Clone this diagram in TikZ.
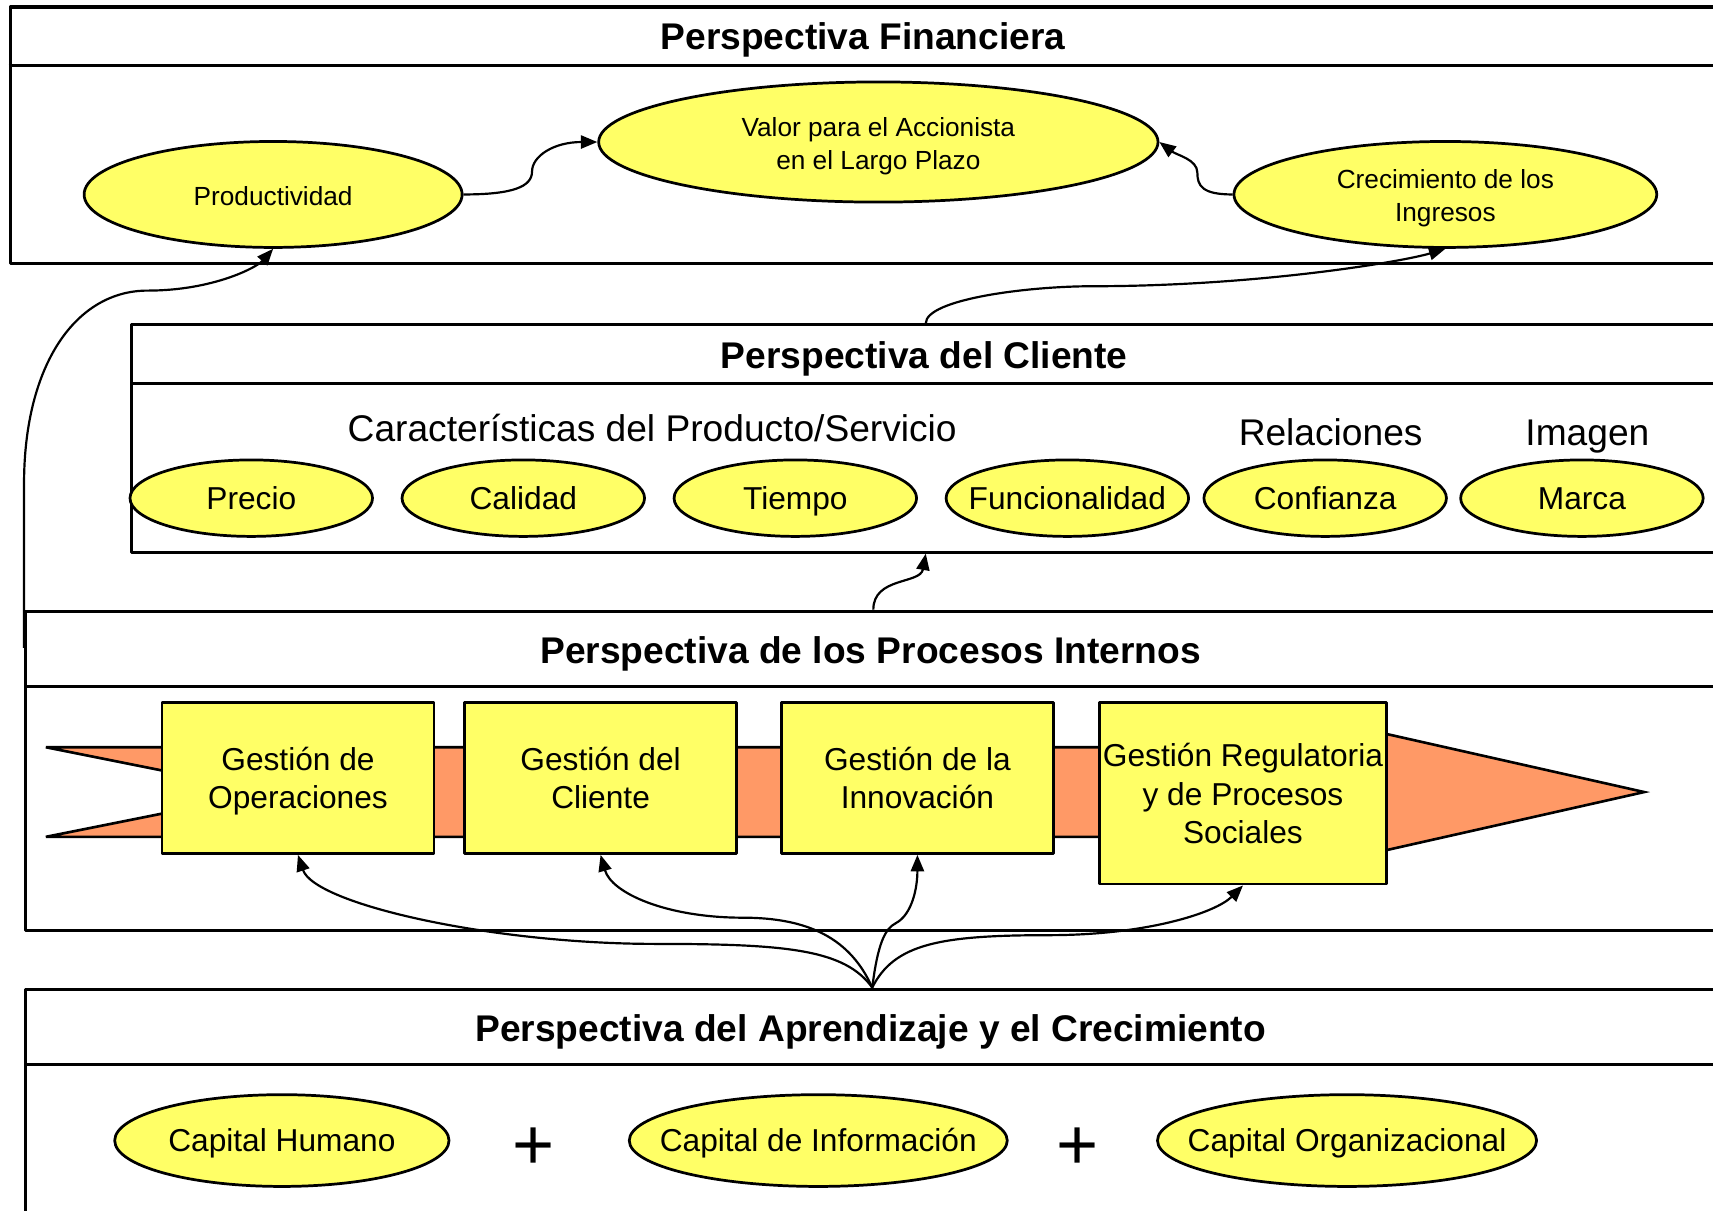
\documentclass[tikz,border=0pt]{standalone}
\usepackage{fontspec}
\setmainfont{Liberation Sans}
\usetikzlibrary{shapes.geometric,arrows.meta}

\definecolor{ovalfill}{HTML}{FFFF66}
\definecolor{bandfill}{HTML}{FF9966}

\newcommand\fsmall{\fontsize{24}{30}\selectfont}
\newcommand\fmid{\fontsize{29}{35}\selectfont}
\newcommand\fbig{\fontsize{34}{40}\selectfont}

\tikzset{
  frame/.style={draw, line width=2.8pt, anchor=north west, inner sep=0pt},
  sepline/.style={line width=2.8pt},
  ptitle/.style={font=\fbig\bfseries, anchor=base, inner sep=0pt},
  cat/.style={font=\fbig, anchor=base, inner sep=0pt},
  oval/.style={ellipse, draw, line width=2.5pt, fill=ovalfill, inner sep=0pt},
  otext/.style={font=\fmid, inner sep=0pt, text height=20.8pt, text depth=0pt},
  otextsmall/.style={font=\fsmall, inner sep=0pt, align=center},
  procbox/.style={draw, line width=2.5pt, fill=ovalfill, inner sep=0pt,
    minimum width=249pt, minimum height=138pt, font=\fmid, align=center,
    text depth=0pt},
  band/.style={draw, line width=2.4pt, fill=bandfill, line join=miter},
  plus/.style={font=\fontsize{66}{66}\selectfont, inner sep=0pt},
  conn/.style={line width=2pt, -{Triangle[length=15pt,width=12pt]}},
}

\begin{document}
\begin{tikzpicture}[x=1pt, y=-1pt, line join=round]
\useasboundingbox (0,0) rectangle (1568,1108);
\clip (0,0) rectangle (1568,1108);
\fill[white] (0,0) rectangle (1568,1108);

% ---------- Perspectiva Financiera ----------
\node[frame, minimum width=1564pt, minimum height=235pt] (fin) at (8,5) {};
\draw[sepline] (8,60) -- (1572,60);
\node[ptitle] (fint) at (790,45) {Perspectiva Financiera};
\node[oval, minimum width=346pt, minimum height=97pt,
      label={[otextsmall, yshift=-1.5pt]center:Productividad}] (prod) at (250,178) {};
\node[oval, minimum width=512pt, minimum height=110pt,
      label={[otextsmall, yshift=-4pt]center:{Valor para el Accionista\\en el Largo Plazo}}] (valor) at (804,130) {};
\node[oval, minimum width=387pt, minimum height=97pt,
      label={[otextsmall, yshift=-3.5pt]center:{Crecimiento de los\\Ingresos}}] (crec) at (1323,178) {};

% ---------- Perspectiva del Cliente ----------
\node[frame, minimum width=1454pt, minimum height=208pt] (cli) at (119,296) {};
\draw[sepline] (119,351) -- (1573,351);
\node[ptitle] (clit) at (846,337) {Perspectiva del Cliente};
\node[cat] (carac) at (597,404) {Características del Producto/Servicio};
\node[cat] (rel) at (1218,408) {Relaciones};
\node[cat] (img) at (1453,408) {Imagen};
\foreach \nm/\cx/\txt in {precio/230/Precio, calidad/479/Calidad, tiempo/728/Tiempo,
    funcion/977/Funcionalidad, confianza/1213/Confianza, marca/1448/Marca}
  \node[oval, minimum width=222pt, minimum height=70pt,
        label={[otext]center:\txt}] (\nm) at (\cx,456) {};

% ---------- Perspectiva de los Procesos Internos ----------
\node[frame, minimum width=1552pt, minimum height=292pt] (proc) at (22,558) {};
\draw[sepline] (22,628) -- (1574,628);
\node[ptitle] (proct) at (797,607) {Perspectiva de los Procesos Internos};
\draw[band] (42,684) -- (1150,684) -- (1150,645) -- (1505,725) -- (1150,805)
  -- (1150,766) -- (42,766) -- (247,725) -- cycle;
\node[procbox, anchor=north west] (gop) at (147,642) {Gestión de\\Operaciones};
\node[procbox, anchor=north west] (gcl) at (424,642) {Gestión del\\Cliente};
\node[procbox, anchor=north west] (gin) at (714,642) {Gestión de la\\Innovación};
\node[procbox, anchor=north west, minimum width=263pt, minimum height=166pt]
  (greg) at (1005,642) {Gestión Regulatoria\\y de Procesos\\Sociales};
\coordinate (procL) at (22,593);

% ---------- Perspectiva del Aprendizaje y el Crecimiento ----------
\node[frame, minimum width=1550pt, minimum height=260pt] (apr) at (22,904) {};
\draw[sepline] (22,974) -- (1572,974);
\node[ptitle] (aprt) at (797,953) {Perspectiva del Aprendizaje y el Crecimiento};
\node[oval, minimum width=306pt, minimum height=84pt,
      label={[otext]center:Capital Humano}] (chum) at (258,1044) {};
\node[plus] (plus1) at (488,1051) {+};
\node[oval, minimum width=346pt, minimum height=84pt,
      label={[otext]center:Capital de Información}] (cinf) at (749,1044) {};
\node[plus] (plus2) at (986,1051) {+};
\node[oval, minimum width=347pt, minimum height=84pt,
      label={[otext]center:Capital Organizacional}] (corg) at (1233,1044) {};

% ---------- Connectors ----------
\draw[conn] (prod.east) .. controls +(45,0) and +(0,14) .. (487,157)
  .. controls +(0,-14) and +(-40,0) .. (valor.west);
\draw[conn] (crec.west) .. controls +(-28,0) and +(0,12) .. (1096,158)
  .. controls +(0,-12) and +(16,12) .. (valor.east);
\draw[conn] (procL) -- ++(0,-150) .. controls +(0,-110) and +(-65,0) .. (135,266)
  .. controls +(60,0) and +(-15,17) .. (prod.south);
\draw[conn] (cli.north) .. controls +(0,-22) and +(-60,0) .. (1000,262)
  .. controls +(150,0) and +(-40,12) .. (crec.south);
\draw[conn] (proc.north) .. controls +(0,-30) and +(-5,28) .. (cli.south);

\draw[conn] (apr.north) .. controls +(-25,-35) and +(120,0) .. (600,864)
  .. controls +(-150,0) and +(15,45) .. (gop.south);
\draw[conn] (apr.north) .. controls +(-20,-45) and +(60,0) .. (680,840)
  .. controls +(-70,0) and +(10,35) .. (gcl.south);
\draw[conn] (apr.north) .. controls +(5,-40) and +(-10,5) .. (820,845)
  .. controls +(15,-8) and +(0,30) .. (gin.south);
\draw[conn] (apr.north) .. controls +(20,-40) and +(-100,0) .. (960,856)
  .. controls +(90,0) and +(-25,25) .. (greg.south);
\end{tikzpicture}
\end{document}
